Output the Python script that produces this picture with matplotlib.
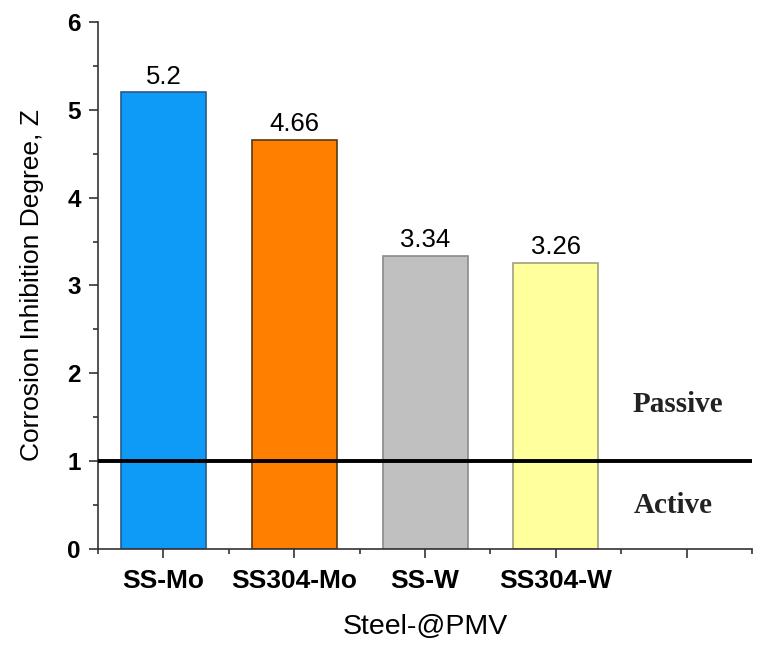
import matplotlib
matplotlib.use("Agg")
import matplotlib.pyplot as plt
from matplotlib.ticker import MultipleLocator

categories = ["SS-Mo", "SS304-Mo", "SS-W", "SS304-W"]
values = [5.2, 4.66, 3.34, 3.26]
value_labels = ["5.2", "4.66", "3.34", "3.26"]
face_colors = ["#0d9bf7", "#ff8000", "#c0c0c0", "#ffff9c"]
edge_colors = ["#2a5a8a", "#5a3a10", "#8a8a8a", "#a0a080"]
threshold = 1.0

plt.rcParams['font.family'] = ['Liberation Sans', 'DejaVu Sans']

fig = plt.figure(figsize=(7.64, 6.51), dpi=100)
ax = fig.add_axes([0.1283, 0.1567, 0.8560, 0.8095])

positions = list(range(1, len(categories) + 1))
bars = ax.bar(positions, values, width=0.65, color=face_colors,
              edgecolor=edge_colors, linewidth=1.2, zorder=2)
for x, v, lab in zip(positions, values, value_labels):
    ax.text(x, v + 0.04, lab, ha='center', va='bottom', fontsize=18.5)

ax.axhline(threshold, color='black', linewidth=2.8, zorder=3)

serif = ['Liberation Serif', 'DejaVu Serif']
ax.text(4.93, 1.64, "Passive", ha='center', va='center', fontsize=21,
        fontweight='bold', family=serif, color='#222222')
ax.text(4.90, 0.50, "Active", ha='center', va='center', fontsize=21,
        fontweight='bold', family=serif, color='#222222')

ax.set_xlim(0.5, 5.5)
ax.set_ylim(0, 6)
ax.set_xticks([1, 2, 3, 4, 5])
ax.set_xticklabels(categories + [""], fontsize=19, fontweight='bold')
ax.set_xticks([0.5, 1.5, 2.5, 3.5, 4.5, 5.5], minor=True)
ax.set_yticks(range(0, 7))
ax.yaxis.set_minor_locator(MultipleLocator(0.5))
for lbl in ax.get_yticklabels():
    lbl.set_fontweight('bold')
    lbl.set_fontsize(17.5)

ax.tick_params(axis='both', which='major', direction='out', length=6.5, width=1.2, color='#333333')
ax.tick_params(axis='both', which='minor', direction='out', length=3.5, width=1.2, color='#333333')
ax.tick_params(axis='x', which='major', pad=8)
ax.tick_params(axis='y', which='major', pad=6)

for s in ['top', 'right']:
    ax.spines[s].set_visible(False)
for s in ['left', 'bottom']:
    ax.spines[s].set_linewidth(1.2)
    ax.spines[s].set_color('#333333')

ax.set_ylabel("Corrosion Inhibition Degree, Z", fontsize=19, labelpad=17)
ax.set_xlabel("Steel-@PMV", fontsize=20.5, labelpad=15)

fig.savefig("out.png", dpi=100)
